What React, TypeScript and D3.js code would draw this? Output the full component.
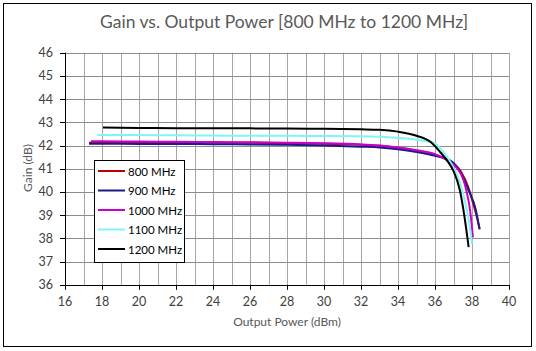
import React from "react";
import * as d3 from "d3";

// series data: output power (dBm) and gain (dB)
const seriesNames = ["800 MHz", "900 MHz", "1000 MHz", "1100 MHz", "1200 MHz"];
const seriesColors = ["#c00000", "#1a1a8c", "#cc00cc", "#7ff5f5", "#000000"];

const pout800 = [17.3, 18, 20, 22, 24, 26, 28, 30, 32, 33, 34, 35, 36, 36.5, 37, 37.4, 37.8, 38.1, 38.3, 38.42];
const gain800 = [42.12, 42.14, 42.15, 42.14, 42.13, 42.12, 42.1, 42.08, 42.03, 41.99, 41.9, 41.78, 41.6, 41.46, 41.24, 40.88, 40.2, 39.4, 38.8, 38.38];

const pout900 = [17.3, 18, 20, 22, 24, 26, 28, 30, 32, 33, 34, 35, 36, 36.5, 37, 37.4, 37.8, 38.2, 38.4];
const gain900 = [42.08, 42.08, 42.07, 42.07, 42.06, 42.05, 42.03, 42.0, 41.95, 41.92, 41.84, 41.72, 41.56, 41.45, 41.25, 40.82, 40.1, 39.25, 38.42];

const pout1000 = [17.4, 18, 20, 22, 24, 26, 28, 30, 32, 33, 34, 35, 36, 36.7, 37.4, 37.7, 37.9, 38.05];
const gain1000 = [42.18, 42.18, 42.17, 42.16, 42.15, 42.14, 42.12, 42.1, 42.05, 42.0, 41.92, 41.8, 41.63, 41.34, 40.77, 40.05, 39.2, 38.05];

const pout1100 = [17.75, 18, 20, 22, 24, 26, 28, 30, 32, 33, 34, 35, 36, 36.4, 36.75, 37, 37.35, 37.7, 37.9, 38.0];
const gain1100 = [42.45, 42.45, 42.45, 42.44, 42.43, 42.42, 42.42, 42.41, 42.4, 42.38, 42.33, 42.25, 42.09, 41.77, 41.4, 41.05, 40.4, 39.3, 38.4, 37.75];

const pout1200 = [18.05, 20, 22, 24, 26, 28, 30, 32, 33, 34, 35, 35.8, 36.3, 36.7, 37, 37.35, 37.6, 37.82];
const gain1200 = [42.78, 42.76, 42.75, 42.74, 42.74, 42.73, 42.72, 42.7, 42.68, 42.6, 42.42, 42.13, 41.7, 41.3, 40.9, 40.05, 38.9, 37.62];

const xTicks = [16, 18, 20, 22, 24, 26, 28, 30, 32, 34, 36, 38, 40];
const yTicks = [36, 37, 38, 39, 40, 41, 42, 43, 44, 45, 46];

const series = [
  { x: pout800, y: gain800 },
  { x: pout900, y: gain900 },
  { x: pout1000, y: gain1000 },
  { x: pout1100, y: gain1100 },
  { x: pout1200, y: gain1200 },
];

const W = 536;
const H = 351;
const font = "Lato, 'Open Sans', sans-serif";

export default function App() {
  const left = 65;
  const right = 509;
  const top = 52.7;
  const bottom = 284.8;

  const x = d3.scaleLinear().domain([16, 40]).range([left, right]);
  const y = d3.scaleLinear().domain([36, 46]).range([bottom, top]);

  const line = d3
    .line<[number, number]>()
    .x((d) => x(d[0]))
    .y((d) => y(d[1]))
    .curve(d3.curveMonotoneX);

  const minorX = d3.range(16, 41, 1);

  return (
    <svg width={W} height={H} style={{ position: "absolute", left: 0, top: 0 }} fontFamily={font}>
      <rect x={0} y={0} width={W} height={H} fill="#fff" />
      <rect x={3.5} y={3.5} width={528} height={343} fill="#fff" stroke="#000" strokeWidth={1} />

      <text x={284} y={28} textAnchor="middle" fontSize={17.5} fill="#595959">
        Gain vs. Output Power [800 MHz to 1200 MHz]
      </text>

      {/* grid */}
      {minorX.map((v) => (
        <line key={"gx" + v} x1={Math.round(x(v)) + 0.5} x2={Math.round(x(v)) + 0.5} y1={top} y2={bottom} stroke="#a6a6a6" strokeWidth={1} />
      ))}
      {yTicks.map((v) => (
        <line key={"gy" + v} x1={left} x2={right} y1={Math.round(y(v)) + 0.5} y2={Math.round(y(v)) + 0.5} stroke="#8c8c8c" strokeWidth={1} />
      ))}

      {/* axes */}
      <line x1={left + 0.5} x2={left + 0.5} y1={top} y2={bottom + 0.5} stroke="#000" />
      <line x1={left} x2={right + 0.5} y1={Math.round(bottom) + 0.5} y2={Math.round(bottom) + 0.5} stroke="#000" />
      {yTicks.map((v) => (
        <g key={"yt" + v}>
          <line x1={left - 5} x2={left} y1={Math.round(y(v)) + 0.5} y2={Math.round(y(v)) + 0.5} stroke="#000" />
          <text x={53} y={y(v) + 4.5} textAnchor="end" fontSize={12.5} fill="#404040">
            {v}
          </text>
        </g>
      ))}
      {xTicks.map((v) => (
        <g key={"xt" + v}>
          <line x1={Math.round(x(v)) + 0.5} x2={Math.round(x(v)) + 0.5} y1={bottom} y2={bottom + 5} stroke="#000" />
          <text x={x(v)} y={306} textAnchor="middle" fontSize={12.5} fill="#404040">
            {v}
          </text>
        </g>
      ))}

      <text x={287} y={326} textAnchor="middle" fontSize={12} fill="#595959">
        Output Power (dBm)
      </text>
      <text transform={`translate(32,168) rotate(-90)`} textAnchor="middle" fontSize={12} fill="#595959">
        Gain (dB)
      </text>

      {/* series */}
      {series.map((s, i) => (
        <path
          key={seriesNames[i]}
          d={line(s.x.map((v, j) => [v, s.y[j]] as [number, number])) || ""}
          fill="none"
          stroke={seriesColors[i]}
          strokeWidth={2}
        />
      ))}

      {/* legend */}
      <rect x={94.5} y={160.5} width={90} height={102} fill="#fff" stroke="#000" />
      {seriesNames.map((n, i) => {
        const ly = 171 + i * 19.5;
        return (
          <g key={"lg" + n}>
            <line x1={98} x2={125} y1={ly} y2={ly} stroke={seriesColors[i]} strokeWidth={2} />
            <text x={128} y={ly + 4.5} fontSize={11.5} fill="#000">
              {n}
            </text>
          </g>
        );
      })}
    </svg>
  );
}
